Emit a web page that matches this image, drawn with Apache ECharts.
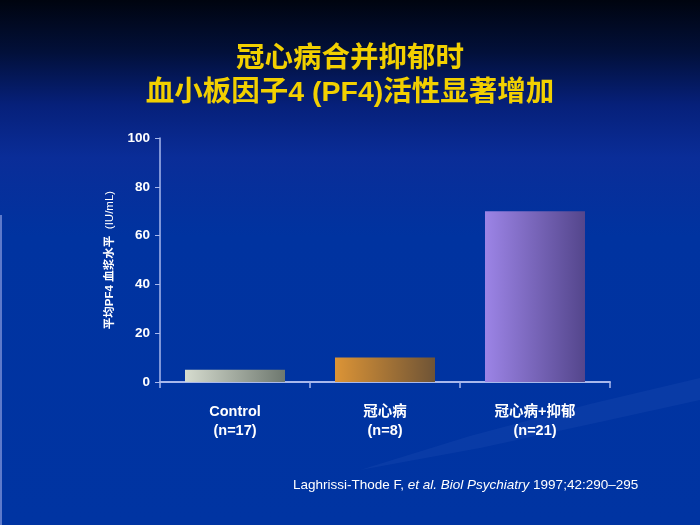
<!DOCTYPE html>
<html>
<head>
<meta charset="utf-8">
<script src="https://cdn.jsdelivr.net/npm/echarts@6/dist/echarts.min.js"></script>
<style>
  html, body { margin: 0; padding: 0; }
  #main {
    width: 700px; height: 525px;
    background: linear-gradient(to bottom, #00040f 0%, #02103a 10%, #06207a 20%, #0a2d98 30%, #0033a0 45%, #0034a2 100%);
  }
</style>
</head>
<body>
<div id="main"></div>
<script>
var categories = ['Control\n(n=17)', '冠心病\n(n=8)', '冠心病+抑郁\n(n=21)'];
var values = [5, 10, 70];
var barColors = [
  ['#d6dccf', '#6e786f'],
  ['#dc9436', '#6f5436'],
  ['#9c84e6', '#54468c']
];

var myChart = echarts.init(document.getElementById('main'));

var cjk = 'Arial, "Liberation Sans", "Noto Sans CJK SC", sans-serif';

var option = {
  animation: false,
  title: {
    text: '冠心病合并抑郁时\n血小板因子4 (PF4)活性显著增加',
    left: 'center',
    top: 37,
    textStyle: {
      color: '#f2d000',
      fontSize: 28.5,
      fontWeight: 'bold',
      fontFamily: cjk,
      lineHeight: 34
    }
  },
  grid: { left: 160, right: 90, top: 138, bottom: 143 },
  xAxis: {
    type: 'category',
    data: categories,
    axisLine: { lineStyle: { color: '#a8b8ec', width: 2 } },
    axisTick: { show: true, length: 6, lineStyle: { color: '#a8b8ec', width: 1.5 } },
    axisLabel: {
      color: '#ffffff',
      fontSize: 14.5,
      fontWeight: 'bold',
      fontFamily: cjk,
      lineHeight: 19,
      margin: 20
    }
  },
  yAxis: {
    type: 'value',
    min: 0,
    max: 100,
    interval: 20,
    name: '{b|平均PF4 血浆水平}  {n|(IU/mL)}',
    nameLocation: 'middle',
    nameGap: 44,
    nameRotate: 90,
    nameTextStyle: {
      rich: {
        b: { color: '#ffffff', fontSize: 11.5, fontWeight: 'bold', fontFamily: cjk },
        n: { color: '#ffffff', fontSize: 11.5, fontFamily: cjk }
      }
    },
    axisLine: { show: true, lineStyle: { color: '#a8b8ec', width: 1.5 } },
    axisTick: { show: true, length: 5, lineStyle: { color: '#a8b8ec' } },
    splitLine: { show: false },
    axisLabel: {
      color: '#ffffff',
      fontSize: 13.5,
      fontWeight: 'bold',
      fontFamily: cjk,
      margin: 10
    }
  },
  series: [{
    type: 'bar',
    barWidth: 100,
    data: values.map(function (v, i) {
      return {
        value: v,
        itemStyle: {
          color: {
            type: 'linear', x: 0, y: 0, x2: 1, y2: 0,
            colorStops: [
              { offset: 0, color: barColors[i][0] },
              { offset: 1, color: barColors[i][1] }
            ]
          }
        }
      };
    })
  }],
  graphic: [
    {
      type: 'polygon',
      silent: true,
      z: -1,
      shape: {
        points: [[360, 470], [470, 436], [590, 404], [700, 378], [700, 400], [600, 422], [480, 448]]
      },
      style: { fill: 'rgba(120,150,230,0.08)' }
    },
    {
      type: 'line',
      silent: true,
      shape: { x1: 1, y1: 215, x2: 1, y2: 525 },
      style: { stroke: '#7d92d8', lineWidth: 1.5 }
    },
    {
      type: 'text',
      left: 293,
      top: 478,
      style: {
        text: '{r|Laghrissi-Thode F, }{i|et al. Biol Psychiatry}{r| 1997;42:290–295}',
        rich: {
          r: { fill: '#ffffff', fontSize: 13.5, fontFamily: 'Arial, "Liberation Sans", sans-serif' },
          i: { fill: '#ffffff', fontSize: 13.5, fontStyle: 'italic', fontFamily: 'Arial, "Liberation Sans", sans-serif' }
        }
      }
    }
  ]
};

myChart.setOption(option);
</script>
</body>
</html>
